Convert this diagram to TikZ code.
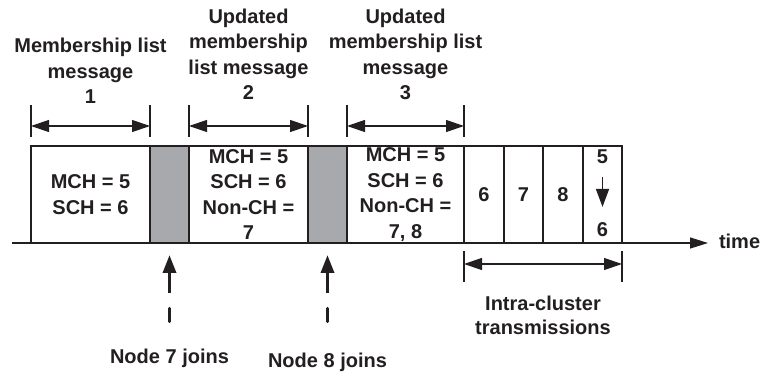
\documentclass[tikz,border=0pt]{standalone}
\usepackage{fontspec}
\setmainfont{Liberation Sans}
\usetikzlibrary{positioning,arrows.meta,calc}
\definecolor{slotgray}{HTML}{A7A9AC}
\definecolor{ink}{HTML}{231F20}

\begin{document}
\begin{tikzpicture}[x=1pt, y=1pt, color=ink, line width=1.3pt,
    every node/.style={font=\fontsize{20}{25.5}\selectfont\bfseries, align=center, inner sep=0pt, outer sep=0pt},
    slot/.style={draw, rectangle, minimum height=97pt},
    gapslot/.style={slot, fill=slotgray, minimum width=39pt},
    tick/.style={line width=1.2pt},
    dimline/.style={line width=1.2pt, arrows={Triangle[length=18pt,width=12pt]-Triangle[length=18pt,width=12pt]}},
    joinarrow/.style={line width=3.5pt, -{Triangle[length=18pt,width=13pt]}},
    joindash/.style={line width=3.5pt, line cap=round},
    downarrow/.style={line width=1.6pt, -{Triangle[length=18pt,width=13pt]}},
    timeaxis/.style={line width=1.3pt, -{Triangle[length=18pt,width=11pt]}}]
    \useasboundingbox (0,0) rectangle (761,375);

    % Slots on the time line
    \node[slot, minimum width=119pt, anchor=south west] (msg1) at (31,132) {MCH = 5\\SCH = 6};
    \node[gapslot, right=0pt of msg1] (gap1) {};
    \node[slot, minimum width=119pt, right=0pt of gap1] (msg2) {MCH = 5\\SCH = 6\\Non-CH =\\7};
    \node[gapslot, right=0pt of msg2] (gap2) {};
    \node[slot, minimum width=117pt, right=0pt of gap2] (msg3) {MCH = 5\\SCH = 6\\Non-CH =\\7, 8};
    \node[slot, minimum width=40pt, right=0pt of msg3] (tx6) {6};
    \node[slot, minimum width=39pt, right=0pt of tx6] (tx7) {7};
    \node[slot, minimum width=40pt, right=0pt of tx7] (tx8) {8};
    \node[slot, minimum width=39pt, right=0pt of tx8] (tx5) {};

    % Last slot: 5 to 6
    \node (five) at ([yshift=37.5pt]tx5.center) {5};
    \node (six) at ([yshift=-35.5pt]tx5.center) {6};
    \draw[downarrow, shorten <=13pt, shorten >=16pt] (five) -- (six);

    % Time axis
    \coordinate (t0) at (12,132);
    \node[anchor=base west] (time) at (719,126) {time};
    \draw[timeaxis, shorten >=11pt] (t0) -- (t0 -| time.west);

    % Message labels
    \node[anchor=south] (lab1) at ([yshift=42pt]msg1.north) {Membership list\\message\\1};
    \node[anchor=south] (lab2) at ([yshift=46pt]msg2.north) {Updated\\membership\\list message\\2};
    \node[anchor=south] (lab3) at ([yshift=46pt]msg3.north) {Updated\\membership list\\message\\3};

    % Message spans
    \draw[tick] ([yshift=9pt]msg1.north west) -- ++(0,32);
    \draw[tick] ([yshift=9pt]msg1.north east) -- ++(0,32);
    \draw[dimline] ([yshift=20pt]msg1.north west) -- ([yshift=20pt]msg1.north east);
    \draw[tick] ([yshift=9pt]msg2.north west) -- ++(0,32);
    \draw[tick] ([yshift=9pt]msg2.north east) -- ++(0,32);
    \draw[dimline] ([yshift=20pt]msg2.north west) -- ([yshift=20pt]msg2.north east);
    \draw[tick] ([yshift=9pt]msg3.north west) -- ++(0,32);
    \draw[tick] ([yshift=9pt]msg3.north east) -- ++(0,32);
    \draw[dimline] ([yshift=20pt]msg3.north west) -- ([yshift=20pt]msg3.north east);

    % Intra-cluster span
    \draw[tick] ([yshift=-8pt]tx6.south west) -- ++(0,-31);
    \draw[tick] ([yshift=-8pt]tx5.south east) -- ++(0,-31);
    \draw[dimline] ([yshift=-21pt]tx6.south west) -- ([yshift=-21pt]tx5.south east);
    \node[anchor=north, font=\fontsize{20}{24}\selectfont\bfseries] (intra) at ([yshift=-53pt]$(tx6.south west)!0.5!(tx5.south east)$) {Intra-cluster\\transmissions};

    % Joining nodes
    \node[anchor=base] (join7) at ([yshift=-121pt]gap1.south) {Node 7 joins};
    \node[anchor=base] (join8) at ([yshift=-125pt]gap2.south) {Node 8 joins};
    \draw[joinarrow] ([yshift=-50pt]gap1.south) -- ([yshift=-12pt]gap1.south);
    \draw[joindash] ([yshift=-65.5pt]gap1.south) -- ([yshift=-78.5pt]gap1.south);
    \draw[joinarrow] ([yshift=-50pt]gap2.south) -- ([yshift=-12pt]gap2.south);
    \draw[joindash] ([yshift=-65.5pt]gap2.south) -- ([yshift=-78.5pt]gap2.south);
\end{tikzpicture}
\end{document}
